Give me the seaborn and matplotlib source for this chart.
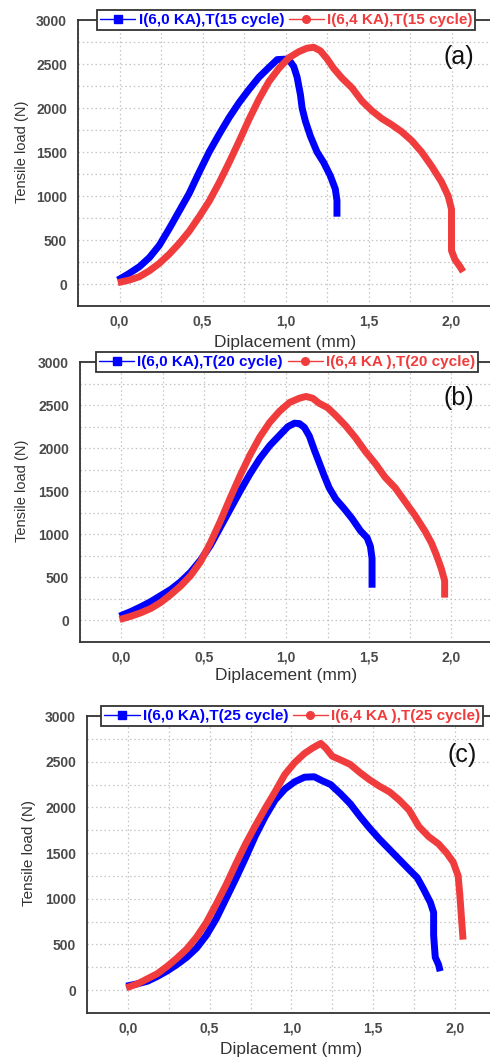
import numpy as np
import pandas as pd
import matplotlib
matplotlib.use("Agg")
import matplotlib.pyplot as plt
from matplotlib.lines import Line2D
from matplotlib.ticker import MultipleLocator
import seaborn as sns

# ---------------- data ----------------
# panel (a)
a_blue_x = [-0.01, 0.05, 0.12, 0.18, 0.24, 0.30, 0.36, 0.42, 0.48, 0.54, 0.60, 0.66, 0.72, 0.78, 0.84, 0.90,
            0.95, 1.00, 1.02, 1.05, 1.07, 1.09, 1.10, 1.12, 1.15, 1.19, 1.23, 1.27, 1.30, 1.31, 1.31]
a_blue_y = [45, 110, 197, 300, 440, 630, 830, 1030, 1270, 1500, 1700, 1890, 2060, 2210, 2350, 2460,
            2550, 2555, 2550, 2470, 2350, 2150, 2000, 1850, 1680, 1500, 1380, 1230, 1080, 950, 765]
a_red_x = [-0.01, 0.06, 0.12, 0.18, 0.24, 0.30, 0.36, 0.42, 0.48, 0.54, 0.60, 0.66, 0.72, 0.78, 0.84, 0.90,
           0.96, 1.02, 1.08, 1.13, 1.17, 1.21, 1.25, 1.29, 1.34, 1.40, 1.46, 1.52, 1.58, 1.64, 1.70, 1.76,
           1.82, 1.88, 1.94, 1.98, 2.00, 2.00, 2.00, 2.02, 2.05, 2.07]
a_red_y = [15, 45, 83, 150, 235, 340, 462, 600, 765, 940, 1150, 1380, 1620, 1870, 2100, 2300,
           2450, 2570, 2640, 2680, 2690, 2650, 2560, 2450, 2340, 2230, 2080, 1970, 1880, 1810, 1730, 1630,
           1500, 1340, 1160, 1000, 850, 600, 380, 280, 200, 140]

# panel (b)
b_blue_x = [-0.01, 0.06, 0.12, 0.18, 0.24, 0.30, 0.36, 0.42, 0.48, 0.54, 0.60, 0.66, 0.72, 0.78, 0.84, 0.90,
            0.96, 1.01, 1.05, 1.08, 1.11, 1.14, 1.17, 1.20, 1.23, 1.26, 1.30, 1.35, 1.40, 1.45, 1.49, 1.51,
            1.52, 1.52, 1.52]
b_blue_y = [50, 105, 160, 220, 290, 360, 450, 560, 700, 870, 1080, 1290, 1500, 1700, 1880, 2030,
            2150, 2250, 2290, 2285, 2240, 2140, 1980, 1830, 1680, 1540, 1410, 1300, 1180, 1040, 960, 860,
            720, 550, 380]
b_red_x = [-0.01, 0.06, 0.12, 0.18, 0.24, 0.30, 0.36, 0.42, 0.48, 0.54, 0.60, 0.66, 0.72, 0.78, 0.84, 0.90,
           0.96, 1.02, 1.08, 1.12, 1.16, 1.20, 1.25, 1.30, 1.36, 1.42, 1.48, 1.54, 1.60, 1.66, 1.72, 1.78,
           1.84, 1.88, 1.91, 1.94, 1.96, 1.96, 1.96]
b_red_y = [10, 50, 90, 140, 210, 300, 400, 520, 680, 900, 1150, 1420, 1680, 1920, 2130, 2300,
           2430, 2530, 2580, 2600, 2580, 2520, 2470, 2380, 2260, 2120, 1960, 1820, 1660, 1540, 1380, 1220,
           1040, 900, 760, 600, 460, 350, 265]

# panel (c)
c_blue_x = [-0.01, 0.06, 0.12, 0.18, 0.24, 0.30, 0.36, 0.42, 0.48, 0.54, 0.60, 0.66, 0.72, 0.78, 0.84, 0.90,
            0.96, 1.02, 1.08, 1.14, 1.19, 1.24, 1.30, 1.36, 1.42, 1.48, 1.54, 1.60, 1.66, 1.72, 1.77, 1.81,
            1.85, 1.87, 1.87, 1.88, 1.90, 1.91]
c_blue_y = [44, 70, 98, 150, 210, 280, 360, 460, 600, 780, 1000, 1220, 1450, 1690, 1900, 2080,
            2200, 2280, 2330, 2335, 2290, 2250, 2150, 2040, 1900, 1770, 1650, 1540, 1430, 1320, 1230, 1100,
            960, 850, 600, 360, 280, 207]
c_red_x = [-0.01, 0.06, 0.12, 0.18, 0.24, 0.30, 0.36, 0.42, 0.48, 0.54, 0.60, 0.66, 0.72, 0.78, 0.84, 0.90,
           0.96, 1.02, 1.08, 1.13, 1.18, 1.21, 1.25, 1.30, 1.36, 1.42, 1.48, 1.54, 1.60, 1.66, 1.72, 1.78,
           1.84, 1.90, 1.95, 1.99, 2.02, 2.03, 2.04, 2.05]
c_red_y = [25, 70, 125, 180, 260, 350, 450, 580, 740, 940, 1150, 1380, 1600, 1800, 1990, 2170,
           2360, 2490, 2590, 2650, 2700, 2650, 2560, 2520, 2470, 2380, 2300, 2230, 2170, 2080, 1970, 1790,
           1680, 1600, 1500, 1400, 1250, 1050, 800, 553]

blue_labels = ["I(6,0 KA),T(15 cycle)", "I(6,0 KA),T(20 cycle)", "I(6,0 KA),T(25 cycle)"]
red_labels = ["I(6,4 KA),T(15 cycle)", "I(6,4 KA ),T(20 cycle)", "I(6,4 KA ),T(25 cycle)"]
panel_tags = ["(a)", "(b)", "(c)"]
x_ticks = [0.0, 0.5, 1.0, 1.5, 2.0]
x_tick_labels = ["0,0", "0,5", "1,0", "1,5", "2,0"]
y_ticks = [0, 500, 1000, 1500, 2000, 2500, 3000]
x_label = "Diplacement (mm)"
y_label = "Tensile load (N)"

BLUE = "#0000FF"
RED = "#F03C3C"

sns.set_style("white")
plt.rcParams["font.family"] = ["Liberation Sans", "DejaVu Sans"]

fig = plt.figure(figsize=(4.9, 10.59), dpi=100)
W, H = 490.0, 1059.0

layouts = [
    dict(left=78, top=20, bottom=306, ppu=166, ylab_px=22, ylsize=10.5, xlab_top=335),
    dict(left=80, top=362, bottom=642, ppu=165, ylab_px=22, ylsize=10.5, xlab_top=668),
    dict(left=87, top=716, bottom=1013, ppu=163.5, ylab_px=29, ylsize=11, xlab_top=1042),
]
data = [
    (a_blue_x, a_blue_y, a_red_x, a_red_y),
    (b_blue_x, b_blue_y, b_red_x, b_red_y),
    (c_blue_x, c_blue_y, c_red_x, c_red_y),
]

for i, (lay, (bx, by, rx, ry)) in enumerate(zip(layouts, data)):
    width_px = 2.5 * lay["ppu"]
    height_px = lay["bottom"] - lay["top"]
    ax = fig.add_axes([lay["left"] / W, 1 - lay["bottom"] / H, width_px / W, height_px / H])
    dfb = pd.DataFrame({"x": bx, "y": by})
    dfr = pd.DataFrame({"x": rx, "y": ry})
    sns.lineplot(data=dfb, x="x", y="y", ax=ax, color=BLUE, lw=5.0,
                 sort=False, estimator=None, solid_capstyle="butt",
                 solid_joinstyle="round", zorder=3)
    sns.lineplot(data=dfr, x="x", y="y", ax=ax, color=RED, lw=5.0,
                 sort=False, estimator=None, solid_capstyle="butt",
                 solid_joinstyle="round", zorder=4)
    ax.set_xlim(-0.25, 2.25)
    ax.set_ylim(-250, 3000)

    ax.xaxis.set_minor_locator(MultipleLocator(0.25))
    ax.yaxis.set_minor_locator(MultipleLocator(250))
    ax.set_xticks(x_ticks)
    ax.set_xticklabels(x_tick_labels)
    ax.set_yticks(y_ticks)
    ax.set_yticklabels([str(v) for v in y_ticks])

    ax.grid(True, which="both", color="#c4c4c4", lw=0.9, ls=(0, (1.2, 2.2)))
    ax.set_axisbelow(True)

    for s in ["left", "bottom", "top"]:
        ax.spines[s].set_visible(True)
        ax.spines[s].set_color("#333333")
        ax.spines[s].set_linewidth(1.3)
    ax.spines["right"].set_visible(False)

    ax.tick_params(axis="both", which="major", direction="out", length=5, width=1.1,
                   color="#333333", labelsize=10, labelcolor="#4a4a4a", pad=3,
                   top=False, right=False)
    ax.tick_params(axis="x", which="major", pad=1)
    ax.tick_params(axis="both", which="minor", direction="out", length=3, width=1.0,
                   color="#333333", top=False, right=False)
    for lab in ax.get_xticklabels() + ax.get_yticklabels():
        lab.set_fontweight("bold")

    ax.set_xlabel(x_label, fontsize=12.5, color="#333333")
    ax.set_ylabel(y_label, fontsize=lay["ylsize"], color="#333333")
    ax.xaxis.set_label_coords(0.5, -(lay["xlab_top"] - lay["bottom"]) / height_px)
    ax.yaxis.set_label_coords((lay["ylab_px"] + 7 - lay["left"]) / width_px, 0.54)

    ax.text(0.918, 0.87, panel_tags[i], transform=ax.transAxes, fontsize=18,
            color="#111111", ha="center", va="center")

    handles = [
        Line2D([], [], color=BLUE, lw=1.0, marker="s", markersize=5.5),
        Line2D([], [], color=RED, lw=1.0, marker="o", markersize=5.5),
    ]
    leg = ax.legend(handles, [blue_labels[i], red_labels[i]], loc="center",
                    bbox_to_anchor=(0.502, 1.0), ncol=2, frameon=True,
                    fancybox=False, handlelength=2.3, handletextpad=0.2,
                    columnspacing=0.3, borderpad=0.2, borderaxespad=0,
                    prop={"weight": "bold", "size": 11})
    leg.get_frame().set_edgecolor("#333333")
    leg.get_frame().set_linewidth(1.3)
    leg.get_frame().set_alpha(1.0)
    leg.set_zorder(10)
    texts = leg.get_texts()
    texts[0].set_color(BLUE)
    texts[1].set_color(RED)

fig.savefig("out.png", dpi=100)
